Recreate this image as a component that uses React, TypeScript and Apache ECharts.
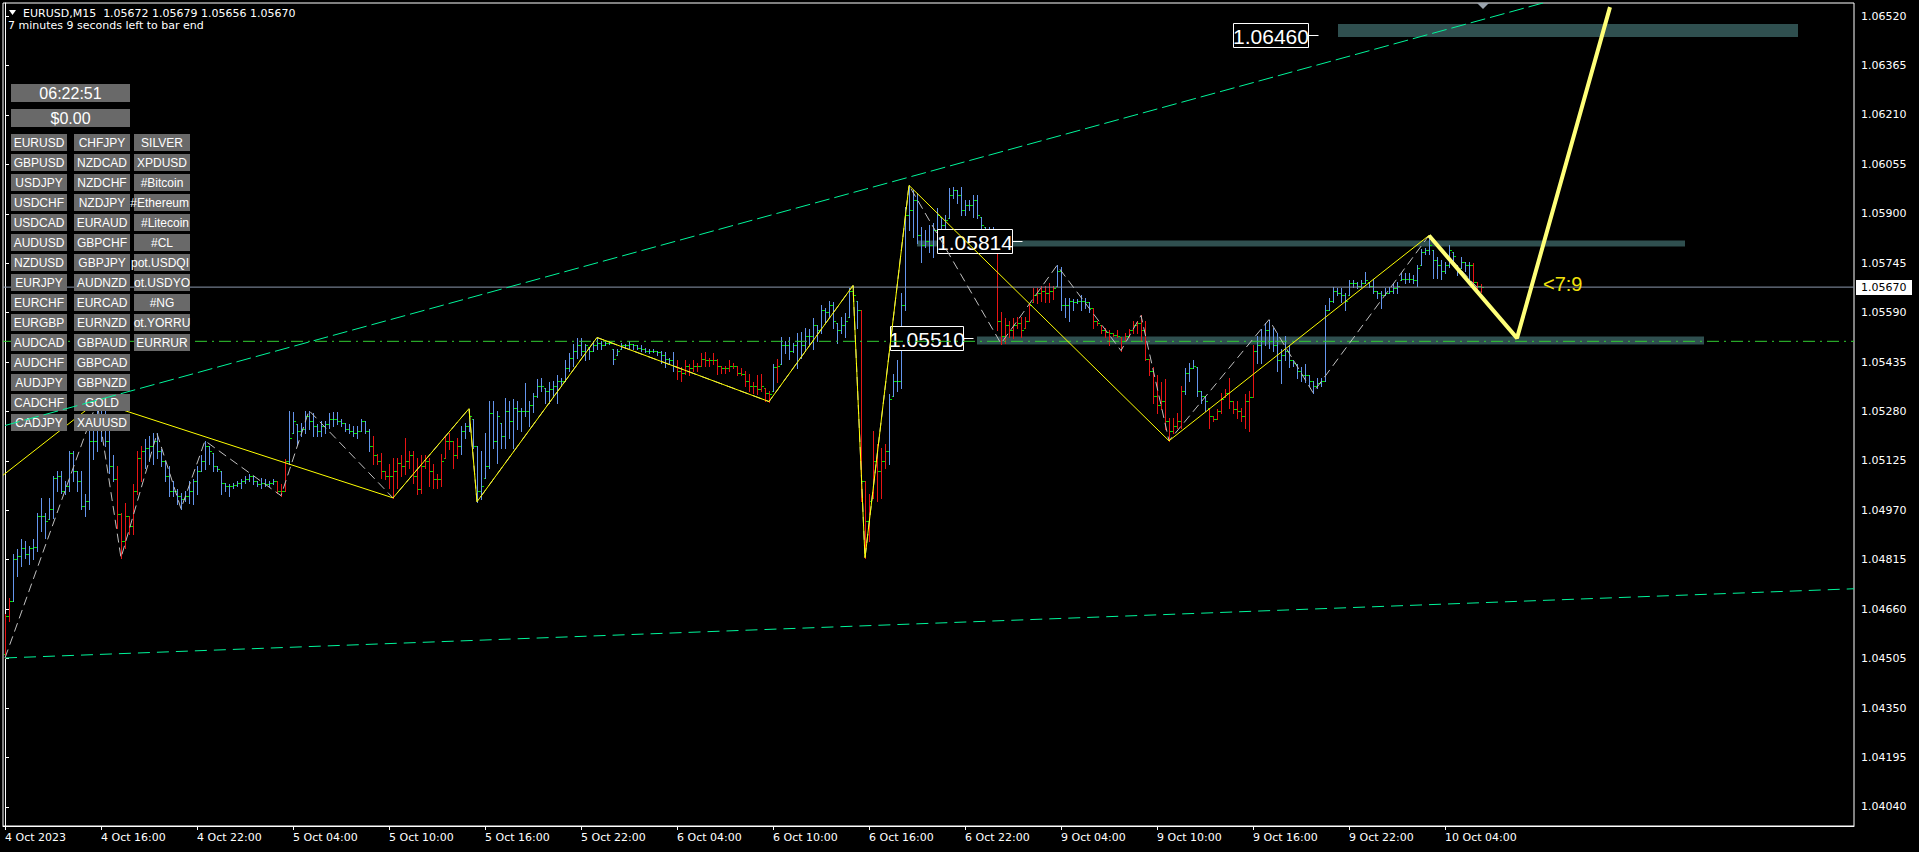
import React, { useEffect, useRef } from "react";
import * as echarts from "echarts";

const DV = '"DejaVu Sans", "Liberation Sans", sans-serif';
const AR = '"Liberation Sans", Arial, sans-serif';

// ---------- axis labels ----------
const timeLabels = ["4 Oct 2023", "4 Oct 16:00", "4 Oct 22:00", "5 Oct 04:00", "5 Oct 10:00", "5 Oct 16:00", "5 Oct 22:00", "6 Oct 04:00", "6 Oct 10:00", "6 Oct 16:00", "6 Oct 22:00", "9 Oct 04:00", "9 Oct 10:00", "9 Oct 16:00", "9 Oct 22:00", "10 Oct 04:00"];
const timeLabelBars = [0, 24, 48, 72, 96, 120, 144, 168, 192, 216, 240, 264, 288, 312, 336, 360];
const priceTicks = [1.0404, 1.04195, 1.0435, 1.04505, 1.0466, 1.04815, 1.0497, 1.05125, 1.0528, 1.05435, 1.0559, 1.05745, 1.059, 1.06055, 1.0621, 1.06365, 1.0652];

// ---------- EURUSD M15 bars (4 Oct 10:00 -> 10 Oct 06:15) ----------
const firstOpen = 1.0452;
const highs = [
  1.04646, 1.04695, 1.04834, 1.04849, 1.04881, 1.04874, 1.04859, 1.04881, 1.04963, 1.05009,
  1.04963, 1.05009, 1.05078, 1.05094, 1.05094, 1.05063, 1.05157, 1.05157, 1.05094, 1.05094,
  1.05022, 1.05242, 1.0522, 1.05311, 1.05283, 1.05289, 1.05251, 1.05142, 1.0511, 1.04963,
  1.04994, 1.04953, 1.05054, 1.05157, 1.05173, 1.05195, 1.05204, 1.05211, 1.05211, 1.05163,
  1.05126, 1.0511, 1.05063, 1.05038, 1.05025, 1.05031, 1.05063, 1.05069, 1.0511, 1.05142,
  1.05188, 1.05173, 1.05151, 1.0511, 1.05094, 1.05057, 1.05054, 1.05057, 1.05063, 1.05069,
  1.05078, 1.05085, 1.05078, 1.05063, 1.05072, 1.05069, 1.05063, 1.05069, 1.05063, 1.05054,
  1.05132, 1.05283, 1.05277, 1.05242, 1.05245, 1.05283, 1.05283, 1.05274, 1.05242, 1.05251,
  1.05251, 1.05274, 1.05277, 1.05277, 1.05257, 1.05245, 1.05242, 1.05236, 1.05236, 1.05257,
  1.05251, 1.05226, 1.05204, 1.05148, 1.05151, 1.05094, 1.05116, 1.05135, 1.05135, 1.05142,
  1.05198, 1.05157, 1.05157, 1.05135, 1.05142, 1.05142, 1.05135, 1.05116, 1.05085, 1.05148,
  1.05204, 1.05214, 1.05188, 1.05198, 1.05236, 1.05245, 1.05289, 1.05257, 1.05173, 1.05157,
  1.05214, 1.05314, 1.05314, 1.05283, 1.05245, 1.05322, 1.05314, 1.0532, 1.05314, 1.05292,
  1.05368, 1.05314, 1.05339, 1.05383, 1.05386, 1.05355, 1.05371, 1.05377, 1.05393, 1.05386,
  1.0544, 1.05462, 1.05493, 1.05509, 1.05509, 1.05493, 1.05483, 1.05502, 1.05512, 1.05502,
  1.05502, 1.05502, 1.05477, 1.05477, 1.05496, 1.05493, 1.05502, 1.05493, 1.05487, 1.05487,
  1.0548, 1.05477, 1.05477, 1.05471, 1.05471, 1.05465, 1.05449, 1.05465, 1.0544, 1.05418,
  1.0544, 1.0543, 1.0544, 1.05433, 1.05462, 1.05465, 1.05449, 1.05462, 1.05446, 1.05424,
  1.05424, 1.0544, 1.05433, 1.05424, 1.05415, 1.05408, 1.05399, 1.05371, 1.05393, 1.05399,
  1.05355, 1.05345, 1.0543, 1.05446, 1.05512, 1.05502, 1.05512, 1.05496, 1.05525, 1.05528,
  1.05543, 1.0554, 1.05572, 1.0555, 1.05613, 1.05606, 1.05628, 1.05622, 1.05556, 1.05575,
  1.05588, 1.05666, 1.05675, 1.05628, 1.05597, 1.05063, 1.05022, 1.0522, 1.05179, 1.05166,
  1.05179, 1.05336, 1.05399, 1.0544, 1.0565, 1.0592, 1.05989, 1.05973, 1.05964, 1.05857,
  1.05848, 1.05864, 1.0587, 1.05917, 1.05889, 1.05895, 1.0598, 1.05985, 1.05973, 1.05985,
  1.05942, 1.05942, 1.05958, 1.05958, 1.05889, 1.05857, 1.05857, 1.05857, 1.05848, 1.05591,
  1.05572, 1.05565, 1.05572, 1.05575, 1.05575, 1.05575, 1.05619, 1.05666, 1.05666, 1.05675,
  1.05675, 1.05682, 1.05675, 1.05738, 1.05732, 1.05637, 1.05637, 1.05634, 1.05634, 1.05644,
  1.05637, 1.05622, 1.05606, 1.05565, 1.0555, 1.05543, 1.05534, 1.05525, 1.05534, 1.05512,
  1.05525, 1.0554, 1.05565, 1.05565, 1.05581, 1.05565, 1.05446, 1.05418, 1.05393, 1.05371,
  1.05383, 1.05261, 1.05261, 1.05274, 1.05361, 1.05415, 1.05433, 1.0544, 1.05418, 1.05345,
  1.0533, 1.05292, 1.05267, 1.05289, 1.05339, 1.05352, 1.05386, 1.05314, 1.05314, 1.05292,
  1.05336, 1.05345, 1.05487, 1.05518, 1.0554, 1.05556, 1.05568, 1.05543, 1.05525, 1.05477,
  1.05518, 1.05487, 1.0544, 1.0543, 1.05418, 1.0543, 1.05393, 1.05377, 1.05386, 1.05386,
  1.05613, 1.05637, 1.05669, 1.05666, 1.05666, 1.05653, 1.05691, 1.05691, 1.05685, 1.05691,
  1.05716, 1.05685, 1.05697, 1.05659, 1.05659, 1.05666, 1.05669, 1.05682, 1.05685, 1.05713,
  1.05713, 1.05713, 1.05707, 1.05738, 1.05791, 1.05794, 1.05832, 1.05785, 1.05763, 1.05754,
  1.05748, 1.05801, 1.05779, 1.05738, 1.05763, 1.05748, 1.05748, 1.05745, 1.05685, 1.05679,
];
const lows = [
  1.04507, 1.04623, 1.04686, 1.04764, 1.04796, 1.04821, 1.04803, 1.04818, 1.04843, 1.04906,
  1.04884, 1.04944, 1.04947, 1.05031, 1.05025, 1.05022, 1.05031, 1.05063, 1.05031, 1.04975,
  1.04953, 1.04975, 1.05132, 1.05157, 1.05188, 1.05173, 1.05088, 1.05063, 1.04915, 1.04821,
  1.04852, 1.04897, 1.04897, 1.05022, 1.05063, 1.05104, 1.05126, 1.05116, 1.05135, 1.0511,
  1.05063, 1.05016, 1.05016, 1.04991, 1.04975, 1.05, 1.04994, 1.04991, 1.05022, 1.05094,
  1.051, 1.05116, 1.05094, 1.05094, 1.05022, 1.05031, 1.05016, 1.05041, 1.05047, 1.05041,
  1.05057, 1.05063, 1.05054, 1.05047, 1.05041, 1.05047, 1.05047, 1.05054, 1.05025, 1.05016,
  1.05031, 1.05116, 1.05211, 1.05179, 1.05204, 1.05211, 1.05226, 1.05204, 1.05204, 1.05204,
  1.05211, 1.05229, 1.05236, 1.05242, 1.05236, 1.0522, 1.05211, 1.05204, 1.05198, 1.0522,
  1.05211, 1.05157, 1.05116, 1.05116, 1.05072, 1.05069, 1.05041, 1.05009, 1.05041, 1.05078,
  1.05085, 1.05104, 1.05057, 1.05022, 1.05025, 1.05104, 1.05047, 1.05041, 1.05041, 1.05047,
  1.05135, 1.05163, 1.05104, 1.05135, 1.05148, 1.05198, 1.0522, 1.05166, 1.04997, 1.05006,
  1.05072, 1.05104, 1.05166, 1.05119, 1.05166, 1.05166, 1.05198, 1.05166, 1.05226, 1.0522,
  1.05267, 1.05236, 1.05277, 1.05324, 1.05345, 1.05305, 1.05305, 1.05324, 1.05308, 1.05361,
  1.05377, 1.05408, 1.05424, 1.05449, 1.05456, 1.0544, 1.05446, 1.05471, 1.05477, 1.05477,
  1.05487, 1.05493, 1.0543, 1.05456, 1.05477, 1.0548, 1.0548, 1.05477, 1.05477, 1.05471,
  1.05465, 1.05462, 1.05465, 1.05456, 1.05433, 1.05418, 1.0543, 1.05408, 1.05383, 1.05377,
  1.05399, 1.05393, 1.05408, 1.05408, 1.05424, 1.05424, 1.05424, 1.0543, 1.05399, 1.05402,
  1.05402, 1.05408, 1.05415, 1.05393, 1.05393, 1.05361, 1.05345, 1.05339, 1.05336, 1.05345,
  1.05314, 1.05311, 1.05345, 1.05371, 1.0543, 1.05462, 1.05446, 1.05465, 1.05415, 1.05449,
  1.05471, 1.05493, 1.05477, 1.05502, 1.05525, 1.05556, 1.05575, 1.05543, 1.05496, 1.05525,
  1.05512, 1.05575, 1.05628, 1.05543, 1.05, 1.04821, 1.04874, 1.05009, 1.05, 1.05009,
  1.05104, 1.05116, 1.0533, 1.05345, 1.05355, 1.05597, 1.05848, 1.05826, 1.05807, 1.05748,
  1.05797, 1.05779, 1.05763, 1.05826, 1.05826, 1.05848, 1.05886, 1.05949, 1.05933, 1.05895,
  1.05895, 1.05911, 1.05889, 1.05886, 1.05842, 1.05838, 1.05842, 1.05832, 1.05534, 1.05493,
  1.05496, 1.05512, 1.05509, 1.05543, 1.05512, 1.05543, 1.05565, 1.05622, 1.05619, 1.05628,
  1.05622, 1.05622, 1.05634, 1.05675, 1.05597, 1.05575, 1.05565, 1.05597, 1.05619, 1.05597,
  1.05606, 1.05591, 1.05543, 1.0555, 1.05525, 1.05512, 1.05487, 1.05518, 1.05512, 1.05471,
  1.05502, 1.05512, 1.05525, 1.05525, 1.05502, 1.0544, 1.05393, 1.05308, 1.05274, 1.05289,
  1.05226, 1.05188, 1.05211, 1.05229, 1.05229, 1.05336, 1.05377, 1.05415, 1.0533, 1.05305,
  1.05283, 1.05229, 1.05251, 1.05257, 1.05274, 1.05324, 1.05292, 1.05274, 1.05261, 1.05251,
  1.05229, 1.0522, 1.05324, 1.05433, 1.05433, 1.05487, 1.0548, 1.05471, 1.05408, 1.05368,
  1.0544, 1.05418, 1.05424, 1.05386, 1.05377, 1.05371, 1.05361, 1.05339, 1.05355, 1.05361,
  1.05377, 1.05597, 1.05622, 1.05644, 1.05622, 1.05597, 1.05644, 1.05669, 1.05666, 1.05669,
  1.05682, 1.05669, 1.0565, 1.05637, 1.05606, 1.05644, 1.05653, 1.0565, 1.05653, 1.05691,
  1.05682, 1.05685, 1.05682, 1.05675, 1.05738, 1.05775, 1.05775, 1.057, 1.057, 1.05697,
  1.05713, 1.05732, 1.05738, 1.05707, 1.05729, 1.05722, 1.05691, 1.05675, 1.05659, 1.05656,
];
const closes = [
  1.04639, 1.04686, 1.04818, 1.04827, 1.04852, 1.04834, 1.04852, 1.04855, 1.04953, 1.04953,
  1.04937, 1.04975, 1.05072, 1.05078, 1.05031, 1.05047, 1.05151, 1.05094, 1.05063, 1.04984,
  1.05, 1.05188, 1.05188, 1.05236, 1.05251, 1.05188, 1.0511, 1.05069, 1.0496, 1.04874,
  1.04953, 1.04922, 1.05031, 1.05135, 1.05157, 1.05166, 1.05173, 1.05188, 1.05157, 1.05126,
  1.05078, 1.05031, 1.05031, 1.05016, 1.05006, 1.05016, 1.05031, 1.05063, 1.05094, 1.05126,
  1.05173, 1.05157, 1.0511, 1.051, 1.05057, 1.05047, 1.05047, 1.0505, 1.05057, 1.05063,
  1.05069, 1.05078, 1.05063, 1.05054, 1.05057, 1.05054, 1.05057, 1.05063, 1.05031, 1.05031,
  1.05126, 1.05198, 1.05251, 1.0522, 1.05226, 1.05267, 1.05251, 1.05236, 1.0522, 1.05236,
  1.05242, 1.05257, 1.05257, 1.05251, 1.05245, 1.05226, 1.0522, 1.05214, 1.0522, 1.05251,
  1.0522, 1.05173, 1.05142, 1.05126, 1.05094, 1.05078, 1.05078, 1.05094, 1.05119, 1.0511,
  1.05126, 1.05142, 1.05078, 1.05038, 1.0511, 1.05126, 1.05094, 1.05069, 1.05069, 1.05126,
  1.05188, 1.05188, 1.05142, 1.05173, 1.0522, 1.05236, 1.05267, 1.05173, 1.05031, 1.05047,
  1.0511, 1.05274, 1.05188, 1.05267, 1.05204, 1.05283, 1.05251, 1.05292, 1.05283, 1.05283,
  1.05283, 1.05299, 1.0533, 1.05361, 1.05361, 1.05345, 1.05352, 1.05361, 1.05377, 1.05377,
  1.05415, 1.05449, 1.05471, 1.05487, 1.05471, 1.05487, 1.05471, 1.05487, 1.05496, 1.05487,
  1.05496, 1.05496, 1.05446, 1.05471, 1.05487, 1.05487, 1.05493, 1.05487, 1.0548, 1.05477,
  1.05471, 1.05471, 1.05471, 1.05465, 1.05456, 1.05446, 1.0544, 1.05424, 1.05408, 1.05402,
  1.05424, 1.05415, 1.05424, 1.05424, 1.05446, 1.0544, 1.0544, 1.0544, 1.05424, 1.05415,
  1.05415, 1.05424, 1.05424, 1.05402, 1.05399, 1.05377, 1.05361, 1.05361, 1.05352, 1.05361,
  1.05339, 1.05336, 1.05418, 1.05424, 1.05487, 1.05487, 1.05471, 1.05487, 1.05502, 1.05487,
  1.05518, 1.05518, 1.0555, 1.05534, 1.05597, 1.05591, 1.05613, 1.05565, 1.05534, 1.0555,
  1.05565, 1.05659, 1.05644, 1.05597, 1.05063, 1.04937, 1.05, 1.05126, 1.05094, 1.05126,
  1.05157, 1.0532, 1.05377, 1.05377, 1.05613, 1.05895, 1.05911, 1.05942, 1.05832, 1.05801,
  1.05816, 1.05801, 1.05848, 1.05895, 1.05864, 1.05879, 1.05958, 1.05973, 1.05958, 1.05911,
  1.05926, 1.05926, 1.05942, 1.05895, 1.05864, 1.05848, 1.05848, 1.05842, 1.05565, 1.05518,
  1.0555, 1.05534, 1.0555, 1.05559, 1.05534, 1.05565, 1.05613, 1.05644, 1.05653, 1.05659,
  1.0565, 1.05659, 1.05666, 1.05722, 1.05613, 1.05613, 1.05628, 1.05622, 1.05628, 1.05628,
  1.05622, 1.05606, 1.05565, 1.05559, 1.05534, 1.05528, 1.05525, 1.05521, 1.05518, 1.05502,
  1.05518, 1.05534, 1.0555, 1.05559, 1.05534, 1.05446, 1.05408, 1.0533, 1.05299, 1.05314,
  1.05251, 1.0522, 1.05236, 1.05251, 1.05345, 1.05402, 1.05415, 1.05424, 1.05345, 1.0533,
  1.05314, 1.05267, 1.05257, 1.05283, 1.0532, 1.05339, 1.05314, 1.05289, 1.05283, 1.05267,
  1.05314, 1.05324, 1.05471, 1.05487, 1.05502, 1.05534, 1.05502, 1.05487, 1.0544, 1.05456,
  1.05471, 1.0544, 1.05433, 1.05408, 1.05393, 1.05393, 1.05377, 1.05361, 1.05368, 1.05377,
  1.05597, 1.05628, 1.05659, 1.05653, 1.05644, 1.05628, 1.05682, 1.05682, 1.05675, 1.05682,
  1.05691, 1.05675, 1.05659, 1.0565, 1.05644, 1.05653, 1.05659, 1.05666, 1.05675, 1.05697,
  1.05697, 1.05697, 1.05691, 1.05729, 1.05779, 1.05785, 1.05801, 1.05754, 1.05738, 1.05722,
  1.05738, 1.05785, 1.05769, 1.05722, 1.05748, 1.05738, 1.05738, 1.05685, 1.05672, 1.0567,
];
// bars drawn in red (trend colouring), as [first, last] bar index
const redRanges = [[0, 1], [28, 34], [68, 70], [92, 113], [168, 191], [193, 193], [214, 220], [248, 262], [272, 294], [301, 312], [367, 369]];

// ---------- drawn objects ----------
const yellowZigzag = [[-0.5, 1.0508], [23, 1.05311], [97, 1.05009], [116, 1.05289], [118, 1.04997], [148, 1.05512], [191, 1.05311], [212, 1.05675], [215, 1.04821], [226, 1.05989], [291, 1.05188], [356, 1.05832]];
const grayZigzag = [[0, 1.04507], [23, 1.05311], [29, 1.04821], [38, 1.05211], [44, 1.04975], [50, 1.05188], [69, 1.05016], [76, 1.05283], [97, 1.05009], [116, 1.05289], [118, 1.04997], [148, 1.05512], [191, 1.05311], [212, 1.05675], [215, 1.04821], [226, 1.05989], [249, 1.05493], [263, 1.05738], [279, 1.05471], [284, 1.05581], [291, 1.05188], [316, 1.05568], [327, 1.05339], [356, 1.05832], [369, 1.05656]];
const projection = [[356, 1.05832], [378, 1.0551], [401.25, 1.06548]];
const projectionText = "<7:9";
const upperTrend = [[0, 1.05236], [462.25, 1.06829]];
const lowerTrend = [[0, 1.04507], [462.25, 1.04724]];
const supportLevel = 1.055;
const bidPrice = 1.0567;
const zones = [
  { from: 333.25, to: 448.25, top: 1.06495, bottom: 1.06454 },
  { from: 228, to: 420, top: 1.05816, bottom: 1.05797 },
  { from: 243, to: 424.75, top: 1.05515, bottom: 1.0549 },
];
const levelPrices = [1.0646, 1.05814, 1.0551];
const levelTexts = ["1.06460", "1.05814", "1.05510"];

// ---------- panel ----------
const headerLine1 = "EURUSD,M15\u00a0 1.05672 1.05679 1.05656 1.05670";
const headerLine2 = "7 minutes 9 seconds left to bar end";
const clockText = "06:22:51";
const balanceText = "$0.00";
const col1 = ["EURUSD", "GBPUSD", "USDJPY", "USDCHF", "USDCAD", "AUDUSD", "NZDUSD", "EURJPY", "EURCHF", "EURGBP", "AUDCAD", "AUDCHF", "AUDJPY", "CADCHF", "CADJPY"];
const col2 = ["CHFJPY", "NZDCAD", "NZDCHF", "NZDJPY", "EURAUD", "GBPCHF", "GBPJPY", "AUDNZD", "EURCAD", "EURNZD", "GBPAUD", "GBPCAD", "GBPNZD", "GOLD", "XAUUSD"];
const col3 = ["SILVER", "XPDUSD", "#Bitcoin", "#Ethereum", "#Litecoin", "#CL", "pot.USDQI", "ot.USDYO", "#NG", "ot.YORRU", "EURRUR"];

// layout
const X_MIN = -0.5;
const X_MAX = 462.25;
const Y_MIN = 1.0398;
const Y_MAX = 1.06561;
const labelRightBar = [325.75, 251.75, 239.5];
const labelWidth = [75, 75, 73];
const projectionTextAt = [384.5, 1.05681];

const BLUE = "#6495ed";
const RED = "#e81414";
const TICK = "#00e000";

const isRed = (i: number) => redRanges.some(([a, b]) => i >= a && i <= b);

export default function App() {
  const ref = useRef<HTMLDivElement>(null);
  useEffect(() => {
    const el = ref.current as HTMLDivElement;
    const chart = echarts.init(el, null, { renderer: "svg" });
    const barData = highs.map((h, i) => [i, i === 0 ? firstOpen : closes[i - 1], h, lows[i], closes[i], isRed(i) ? 1 : 0]);
    const zoneData = zones.map((z) => [z.from, z.to, z.top, z.bottom]);

    chart.setOption({
      animation: false,
      backgroundColor: "#000",
      grid: { left: 3, top: 3, right: 65, bottom: 26, show: true, borderColor: "#ffffff", borderWidth: 1, backgroundColor: "#000", outerBoundsMode: "none" },
      xAxis: {
        type: "value",
        min: X_MIN,
        max: X_MAX,
        splitLine: { show: false },
        axisLine: { show: true, lineStyle: { color: "#ffffff", width: 1 } },
        axisTick: { show: true, customValues: timeLabelBars, length: 4, lineStyle: { color: "#ffffff" } },
        axisLabel: {
          customValues: timeLabelBars,
          formatter: (v: number) => timeLabels[timeLabelBars.indexOf(Math.round(v))] ?? "",
          color: "#ffffff",
          fontSize: 11,
          fontFamily: DV,
          align: "left",
          margin: 6,
        },
      },
      yAxis: {
        type: "value",
        position: "right",
        min: Y_MIN,
        max: Y_MAX,
        scale: true,
        splitLine: { show: false },
        axisLine: { show: true, lineStyle: { color: "#ffffff", width: 1 } },
        axisTick: { show: true, customValues: priceTicks, length: 4, lineStyle: { color: "#ffffff" } },
        axisLabel: {
          customValues: priceTicks,
          formatter: (v: number) => v.toFixed(5),
          color: "#ffffff",
          fontSize: 11,
          fontFamily: DV,
          margin: 7,
        },
      },
      series: [
        {
          type: "custom",
          name: "zones",
          z: 1,
          silent: true,
          clip: true,
          encode: { x: [0, 1], y: [2, 3] },
          data: zoneData,
          renderItem: (_p: any, api: any) => {
            const a = api.coord([api.value(0), api.value(2)]);
            const b = api.coord([api.value(1), api.value(3)]);
            return { type: "rect", shape: { x: a[0], y: a[1], width: b[0] - a[0], height: b[1] - a[1] }, style: { fill: "#2f4f4f" } };
          },
        },
        {
          type: "custom",
          name: "bars",
          z: 2,
          silent: true,
          clip: true,
          encode: { x: 0, y: [2, 3] },
          data: barData,
          renderItem: (_p: any, api: any) => {
            const i = api.value(0);
            const h = api.value(2);
            const l = api.value(3);
            const c = api.value(4);
            const o = Math.min(Math.max(api.value(1), l), h);
            const red = api.value(5) === 1;
            const pt = api.coord([i, h]);
            const pb = api.coord([i, l]);
            const po = api.coord([i, o]);
            const pc = api.coord([i, c]);
            const x = Math.round(pt[0]) + 0.5;
            const yT = Math.round(pt[1]);
            let yB = Math.round(pb[1]) + 1;
            if (yB - yT < 2) yB = yT + 2;
            const yo = Math.round(po[1]) + 0.5;
            const yc = Math.round(pc[1]) + 0.5;
            return {
              type: "group",
              children: [
                { type: "line", shape: { x1: x, y1: yT, x2: x, y2: yB }, style: { stroke: red ? RED : BLUE, lineWidth: 1 } },
                { type: "line", shape: { x1: x - 1.5, y1: yo, x2: x - 0.5, y2: yo }, style: { stroke: TICK, lineWidth: 1 } },
                { type: "line", shape: { x1: x + 0.5, y1: yc, x2: x + 2.5, y2: yc }, style: { stroke: TICK, lineWidth: 1 } },
              ],
            };
          },
        },
        {
          type: "line",
          name: "bid",
          z: 3,
          silent: true,
          symbol: "none",
          data: [[X_MIN, bidPrice], [X_MAX, bidPrice]],
          lineStyle: { color: "#8c98ad", width: 1 },
        },
        {
          type: "line",
          name: "support",
          z: 3,
          silent: true,
          symbol: "none",
          data: [[X_MIN, supportLevel], [X_MAX, supportLevel]],
          lineStyle: { color: "#32cd32", width: 1, type: [12, 5, 2, 5] },
        },
        {
          type: "line",
          name: "zigzag2",
          z: 4,
          silent: true,
          symbol: "none",
          data: grayZigzag,
          lineStyle: { color: "#c0c0c0", width: 1, type: [9, 5] },
        },
        {
          type: "line",
          name: "zigzag",
          z: 4,
          silent: true,
          symbol: "none",
          data: yellowZigzag,
          lineStyle: { color: "#ffff00", width: 1 },
        },
        {
          type: "line",
          name: "projection",
          z: 4,
          silent: true,
          symbol: "none",
          data: projection,
          lineStyle: { color: "#ffff78", width: 4 },
        },
        {
          type: "line",
          name: "upper",
          z: 6,
          silent: true,
          symbol: "none",
          data: upperTrend,
          lineStyle: { color: "#00f59a", width: 1, type: [15, 5] },
        },
        {
          type: "line",
          name: "lower",
          z: 6,
          silent: true,
          symbol: "none",
          data: lowerTrend,
          lineStyle: { color: "#00f59a", width: 1, type: [12, 7] },
        },
      ],
    });

    const px = (b: number, p: number) => chart.convertToPixel({ gridIndex: 0 }, [b, p]) as number[];
    const els: any[] = [];

    // level labels
    levelPrices.forEach((p, k) => {
      const [xr, yc] = px(labelRightBar[k], p);
      const w = labelWidth[k];
      const xl = Math.round(xr - w) + 0.5;
      const yt = Math.round(yc - 12) + 0.5;
      els.push({ type: "rect", z: 3, silent: true, shape: { x: xl, y: yt, width: w, height: 24 }, style: { fill: "#000", stroke: "#ffffff", lineWidth: 1 } });
      els.push({ type: "text", z: 3, silent: true, x: xl + w / 2, y: yc + 1, style: { text: levelTexts[k], fill: "#ffffff", font: `21px ${AR}`, textAlign: "center", textVerticalAlign: "middle" } });
      els.push({ type: "line", z: 3, silent: true, shape: { x1: xl + w, y1: Math.round(yc) + 0.5, x2: xl + w + 10, y2: Math.round(yc) + 0.5 }, style: { stroke: "#ffffff", lineWidth: 1 } });
    });

    // projection ratio text
    const [tx, ty] = px(projectionTextAt[0], projectionTextAt[1]);
    els.push({ type: "text", z: 7, silent: true, x: tx, y: ty, style: { text: projectionText, fill: "#f2e20c", font: `20px ${AR}`, textAlign: "left", textVerticalAlign: "middle" } });

    // bid price box on the axis
    const yb = px(0, bidPrice)[1];
    els.push({ type: "rect", z: 7, silent: true, shape: { x: 1856, y: Math.round(yb) - 7, width: 56, height: 15 }, style: { fill: "#ffffff" } });
    els.push({ type: "text", z: 7, silent: true, x: 1861, y: Math.round(yb) + 0.5, style: { text: bidPrice.toFixed(5), fill: "#000000", font: `11px ${DV}`, textAlign: "left", textVerticalAlign: "middle" } });

    // shift marker
    els.push({ type: "polygon", z: 7, silent: true, shape: { points: [[1477, 3], [1489, 3], [1483, 9]] }, style: { fill: "#9aa3ad" } });

    // header
    els.push({ type: "polygon", z: 7, silent: true, shape: { points: [[9, 10], [16, 10], [12.5, 15]] }, style: { fill: "#ffffff" } });
    els.push({ type: "text", z: 7, silent: true, x: 23, y: 13, style: { text: headerLine1, fill: "#ffffff", font: `11px ${DV}`, textAlign: "left", textVerticalAlign: "middle" } });
    els.push({ type: "text", z: 7, silent: true, x: 8, y: 25, style: { text: headerLine2, fill: "#ffffff", font: `11px ${DV}`, textAlign: "left", textVerticalAlign: "middle" } });

    // panel: clock and balance
    [clockText, balanceText].forEach((t, k) => {
      const y = 84 + k * 25;
      els.push({ type: "rect", z: 5, silent: true, shape: { x: 11, y, width: 119, height: 18 }, style: { fill: "#696969" } });
      els.push({ type: "text", z: 5, silent: true, x: 70.5, y: y + 9.5, style: { text: t, fill: "#ffffff", font: `16px ${AR}`, textAlign: "center", textVerticalAlign: "middle" } });
    });
    // panel: symbol buttons
    const colX = [11, 74, 134];
    [col1, col2, col3].forEach((col, ci) => {
      col.forEach((t, r) => {
        const x = colX[ci];
        const y = 134 + r * 20;
        els.push({ type: "rect", z: 5, silent: true, shape: { x, y, width: 56, height: 17 }, style: { fill: "#696969" } });
        const wide = t.length > 8;
        els.push({
          type: "text",
          z: 5,
          silent: true,
          x: wide ? x + 55 : x + 28,
          y: y + 9,
          style: { text: t, fill: "#ffffff", font: `12px ${AR}`, textAlign: wide ? "right" : "center", textVerticalAlign: "middle" },
        });
      });
    });

    chart.setOption({ graphic: { elements: els } });
    return () => chart.dispose();
  }, []);

  return <div ref={ref} style={{ position: "fixed", left: 0, top: 0, width: 1919, height: 852, background: "#000" }} />;
}
